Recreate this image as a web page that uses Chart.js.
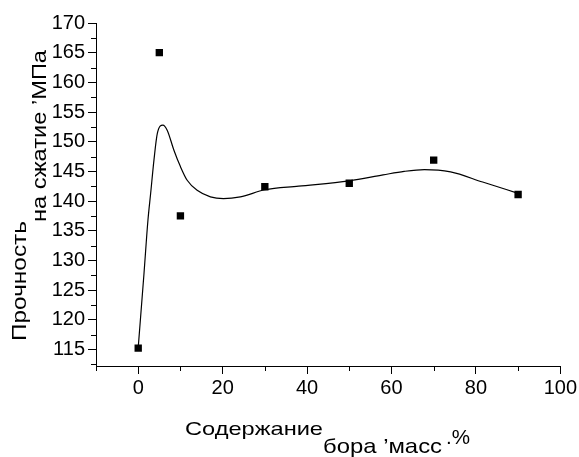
<!DOCTYPE html>
<html>
<head>
<meta charset="utf-8">
<script src="https://cdn.jsdelivr.net/npm/chart.js@4.4.0/dist/chart.umd.min.js"></script>
<style>
  html, body { margin: 0; padding: 0; background: #fff; }
  #wrap { width: 579px; height: 457px; }
</style>
</head>
<body>
<div id="wrap"><canvas id="myChart" width="579" height="457"></canvas></div>
<script>
// measured points
const boronX = [0, 5, 10, 30, 50, 70, 90];
const strengthY = [115.2, 165, 137.5, 142.4, 143, 146.9, 141.1];

// fitted curve
const fitX = [0, 1.37, 2.31, 2.95, 3.73, 4.53, 5.85, 6.89, 8.44, 10, 11.6, 13.96, 17.1, 20.2, 24.2, 30, 38, 50, 58, 63, 67.8, 74, 81.6, 90];
const fitY = [115.3, 127.8, 136.8, 141.3, 146.9, 151.4, 152.8, 151.9, 148.6, 145.8, 143.5, 141.8, 140.7, 140.4, 140.7, 141.9, 142.5, 143.4, 144.4, 145, 145.3, 144.9, 143.2, 141.3];

const xMajor = [0, 20, 40, 60, 80, 100];
const xMinor = [-10, 10, 30, 50, 70, 90];
const yMajor = [115, 120, 125, 130, 135, 140, 145, 150, 155, 160, 165, 170];
const yMinor = [112.5, 117.5, 122.5, 127.5, 132.5, 137.5, 142.5, 147.5, 152.5, 157.5, 162.5, 167.5];

const FONT = 'Liberation Sans, Arial, sans-serif';

// draw text stretched to a given width
function fitText(ctx, text, x, y, width, size) {
  ctx.font = size + 'px ' + FONT;
  const w = ctx.measureText(text).width;
  ctx.save();
  ctx.translate(x, y);
  ctx.scale(width / w, 1);
  ctx.fillText(text, 0, 0);
  ctx.restore();
}

const extras = {
  id: 'extras',
  afterDraw(chart) {
    const ctx = chart.ctx;
    const xs = chart.scales.x, ys = chart.scales.y;
    const area = chart.chartArea;
    ctx.save();
    ctx.strokeStyle = '#000';
    ctx.lineWidth = 1;
    ctx.beginPath();
    xMinor.forEach(v => {
      const px = Math.round(xs.getPixelForValue(v)) + 0.5;
      ctx.moveTo(px, area.bottom);
      ctx.lineTo(px, area.bottom + 5);
    });
    yMinor.forEach(v => {
      const py = Math.round(ys.getPixelForValue(v)) + 0.5;
      ctx.moveTo(area.left, py);
      ctx.lineTo(area.left - 5, py);
    });
    ctx.stroke();

    // axis titles
    ctx.fillStyle = '#000';
    ctx.textBaseline = 'alphabetic';
    ctx.textAlign = 'left';
    fitText(ctx, 'Содержание', 185, 435, 138, 19);
    fitText(ctx, 'бора \u2019масс', 323, 453, 119, 21);
    fitText(ctx, '.%', 446, 444, 24, 21);

    ctx.save();
    ctx.translate(26, 341);
    ctx.rotate(-Math.PI / 2);
    fitText(ctx, 'Прочность', 0, 0, 120, 21);
    ctx.restore();

    ctx.save();
    ctx.translate(46, 222);
    ctx.rotate(-Math.PI / 2);
    fitText(ctx, 'на сжатие \u2019МПа', 0, 0, 172, 21);
    ctx.restore();
    ctx.restore();
  }
};

new Chart(document.getElementById('myChart'), {
  type: 'scatter',
  data: {
    datasets: [{
      type: 'line',
      label: 'fit',
      data: fitX.map((x, i) => ({ x: x, y: fitY[i] })),
      borderColor: '#000',
      borderWidth: 1.2,
      pointRadius: 0,
      cubicInterpolationMode: 'monotone',
      fill: false
    }, {
      label: 'data',
      data: boronX.map((x, i) => ({ x: x, y: strengthY[i] })),
      pointStyle: 'rect',
      pointRadius: 5.2,
      backgroundColor: '#000',
      borderColor: '#000',
      borderWidth: 0
    }]
  },
  options: {
    responsive: false,
    animation: false,
    layout: { padding: { left: 0, right: 18, top: 23, bottom: 0 } },
    plugins: { legend: { display: false }, tooltip: { enabled: false } },
    scales: {
      x: {
        type: 'linear',
        min: -10,
        max: 100,
        afterBuildTicks(s) { s.ticks = xMajor.map(v => ({ value: v })); },
        afterFit(s) { s.height = 91; },
        grid: { drawOnChartArea: false, tickLength: 8, color: '#000', tickColor: '#000' },
        border: { color: '#000', width: 1 },
        ticks: { color: '#000', font: { family: FONT, size: 20 }, padding: 2, maxRotation: 0 }
      },
      y: {
        type: 'linear',
        min: 112.2,
        max: 170,
        afterBuildTicks(s) { s.ticks = yMajor.map(v => ({ value: v })); },
        afterFit(s) { s.width = 96; },
        grid: { drawOnChartArea: false, tickLength: 8, color: '#000', tickColor: '#000' },
        border: { color: '#000', width: 1 },
        ticks: { color: '#000', font: { family: FONT, size: 20 }, padding: 3 }
      }
    }
  },
  plugins: [extras]
});
</script>
</body>
</html>
